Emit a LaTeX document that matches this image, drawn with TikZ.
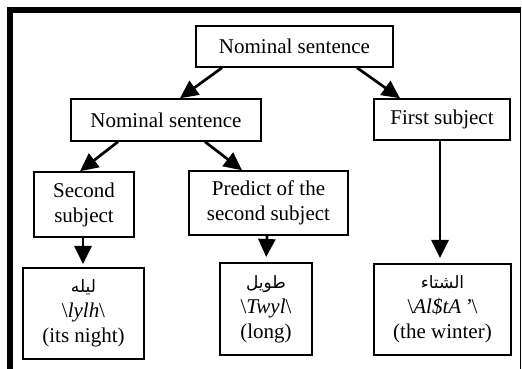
\documentclass[tikz,border=0pt]{standalone}
\usepackage{fontspec}
\setmainfont{Liberation Serif}
\newfontfamily\arabicfont[Script=Arabic]{DejaVu Sans}
\newcommand\arsz{\fontsize{17}{25}\arabicfont}
\TeXXeTstate=1
\usetikzlibrary{arrows.meta}
\begin{document}
\begin{tikzpicture}[x=1pt,y=1pt,
  box/.style={draw, line width=1.5pt, inner sep=0pt, align=center,
    font=\fontsize{21}{25}\selectfont},
  leafbox/.style={box, line width=2pt},
  arr/.style={line width=2.7pt, -{Triangle[length=18pt,width=17pt]}}]
\useasboundingbox (0,0) rectangle (522,369);
\fill[white] (0,0) rectangle (522,369);
% frame
\draw[line width=6pt, line join=miter] (10,0) -- (10,358.5) -- (521,358.5);
\draw[line width=1.5pt] (520.5,358.5) -- (520.5,0);
% nodes
\node[box, minimum width=197pt, minimum height=41pt] (top) at (294.5,322.5) {Nominal sentence};
\node[box, minimum width=190pt, minimum height=42pt] (ns) at (166,249) {Nominal sentence};
\node[box, minimum width=136pt, minimum height=41pt] (first) at (442,249.5) {First subject};
\node[box, minimum width=100pt, minimum height=65pt] (second) at (84,164.5) {Second\\subject};
\node[box, minimum width=159pt, minimum height=64pt] (pred) at (268.5,166) {Predict of the\\second subject};
\node[leafbox, minimum width=121pt, minimum height=91pt] (b1) at (83.5,55.5)
  {{\arsz\beginR ليله\endR}\\\textbackslash\textit{lylh}\textbackslash\\(its night)};
\node[leafbox, minimum width=92pt, minimum height=92pt] (b2) at (266,60)
  {{\arsz\beginR طويل\endR}\\\textbackslash\textit{Twyl}\textbackslash\\(long)};
\node[leafbox, minimum width=137pt, minimum height=91pt] (b3) at (442.5,59.5)
  {{\arsz\beginR الشتاء\endR}\\\textbackslash\textit{Al\$tA\,'}\textbackslash\\(the winter)};
% connectors
\draw[arr] ([xshift=-72.5pt]top.south) -- ([xshift=14pt]ns.north);
\draw[arr] ([xshift=62.5pt]top.south) -- ([xshift=-42pt]first.north);
\draw[arr] ([xshift=-48pt]ns.south) -- ([xshift=-4pt]second.north);
\draw[arr] ([xshift=39pt]ns.south) -- ([xshift=-26.5pt]pred.north);
\draw[arr, shorten >=3pt] ([xshift=-1pt]second.south) -- ([xshift=-0.5pt]b1.north);
\draw[arr, shorten >=5pt] ([xshift=-1.5pt]pred.south) -- (b2.north);
\draw[arr, shorten >=5pt] ([xshift=-2pt]first.south) -- ([xshift=-2.5pt]b3.north);
\end{tikzpicture}
\end{document}
